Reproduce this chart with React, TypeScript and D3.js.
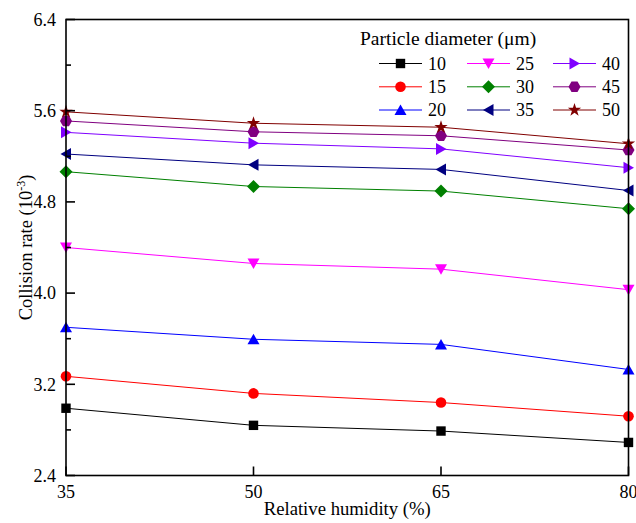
import React from "react";
import * as d3 from "d3";

const humidity = [35, 50, 65, 80];
const diameters = ["10", "15", "20", "25", "30", "35", "40", "45", "50"];
const d10 = [2.99, 2.84, 2.79, 2.69];
const d15 = [3.27, 3.12, 3.04, 2.92];
const d20 = [3.7, 3.595, 3.55, 3.33];
const d25 = [4.4, 4.26, 4.21, 4.03];
const d30 = [5.065, 4.935, 4.895, 4.74];
const d35 = [5.22, 5.125, 5.085, 4.9];
const d40 = [5.41, 5.315, 5.265, 5.1];
const d45 = [5.51, 5.415, 5.38, 5.255];
const d50 = [5.59, 5.49, 5.455, 5.31];
const seriesValues = [d10, d15, d20, d25, d30, d35, d40, d45, d50];
const colors = ["#000000", "#FF0000", "#0000FF", "#FF00FF", "#008000", "#000080", "#8000FF", "#800080", "#800000"];
const shapes = ["square", "circle", "triUp", "triDown", "diamond", "triLeft", "triRight", "hexagon", "star"];
const yTicks = [2.4, 3.2, 4.0, 4.8, 5.6, 6.4];
const yMinor = [2.8, 3.6, 4.4, 5.2, 6.0];
const xTicks = [35, 50, 65, 80];

const W = 636, H = 523;
const L = 66, R = 628.5, T = 19.5, B = 475.5;
const FONT = "'Liberation Serif', 'Times New Roman', serif";

function markerPath(shape: string): string {
  const p = d3.path();
  switch (shape) {
    case "square": {
      const s = 4.7;
      p.rect(-s, -s, 2 * s, 2 * s);
      break;
    }
    case "circle":
      p.arc(0, 0, 5.3, 0, Math.PI * 2);
      break;
    case "triUp":
      p.moveTo(0, -5.5); p.lineTo(6, 5); p.lineTo(-6, 5); p.closePath();
      break;
    case "triDown":
      p.moveTo(0, 5.5); p.lineTo(6, -5); p.lineTo(-6, -5); p.closePath();
      break;
    case "triLeft":
      p.moveTo(-5.5, 0); p.lineTo(5, -6); p.lineTo(5, 6); p.closePath();
      break;
    case "triRight":
      p.moveTo(5.5, 0); p.lineTo(-5, -6); p.lineTo(-5, 6); p.closePath();
      break;
    case "diamond":
      p.moveTo(0, -6.5); p.lineTo(6.5, 0); p.lineTo(0, 6.5); p.lineTo(-6.5, 0); p.closePath();
      break;
    case "hexagon": {
      const r = 6;
      for (let i = 0; i < 6; i++) {
        const a = (Math.PI / 3) * i + Math.PI / 6 + Math.PI / 2;
        const x = r * Math.cos(a), y = r * Math.sin(a);
        if (i === 0) p.moveTo(x, y); else p.lineTo(x, y);
      }
      p.closePath();
      break;
    }
    case "star":
      return d3.symbol(d3.symbolStar, 55)() as string;
  }
  return p.toString();
}

export default function App() {
  const x = d3.scaleLinear().domain([35, 80]).range([L, R]);
  const y = d3.scaleLinear().domain([2.4, 6.4]).range([B, T]);
  const line = d3.line<number>().x((_, i) => x(humidity[i])).y((v) => y(v));

  const legCols = [379, 467, 553];
  const legRows = [63.5, 86.8, 110];

  return (
    <svg width={W} height={H} style={{ position: "absolute", left: 0, top: 0, background: "#fff" }} fontFamily={FONT}>
      <rect x={0} y={0} width={W} height={H} fill="#fff" />
      {/* series */}
      {seriesValues.map((vals, si) => (
        <g key={si}>
          <path d={line(vals) as string} fill="none" stroke={colors[si]} strokeWidth={1} />
          {vals.map((v, i) => (
            <path key={i} d={markerPath(shapes[si])} transform={`translate(${x(humidity[i])},${y(v)})`} fill={colors[si]} />
          ))}
        </g>
      ))}
      {/* frame */}
      <rect x={L} y={T} width={R - L} height={B - T} fill="none" stroke="#000" strokeWidth={1.6} />
      {/* y ticks */}
      {yTicks.map((t) => (
        <g key={t}>
          <line x1={L} x2={L + 9} y1={y(t)} y2={y(t)} stroke="#000" strokeWidth={1.6} />
          <text x={L - 10} y={y(t)} dy="0.35em" textAnchor="end" fontSize={18}>{t.toFixed(1)}</text>
        </g>
      ))}
      {yMinor.map((t) => (
        <line key={t} x1={L} x2={L + 5} y1={y(t)} y2={y(t)} stroke="#000" strokeWidth={1.6} />
      ))}
      {/* x ticks */}
      {xTicks.map((t) => (
        <g key={t}>
          <line x1={x(t)} x2={x(t)} y1={B} y2={B - 9} stroke="#000" strokeWidth={1.6} />
          <text x={x(t)} y={498} textAnchor="middle" fontSize={18}>{t}</text>
        </g>
      ))}
      {/* axis titles */}
      <text x={(L + R) / 2} y={515} textAnchor="middle" fontSize={18.7}>Relative humidity (%)</text>
      <text transform={`translate(32,${(T + B) / 2}) rotate(-90)`} textAnchor="middle" fontSize={18.5}>
        Collision rate (10<tspan fontSize={12} dy={-7}>-3</tspan><tspan dy={7}>)</tspan>
      </text>
      {/* legend */}
      <text x={360} y={45} fontSize={19.5}>Particle diameter (μm)</text>
      {diameters.map((d, i) => {
        const col = Math.floor(i / 3);
        const row = i % 3;
        const lx = legCols[col];
        const ly = legRows[row];
        return (
          <g key={d}>
            <line x1={lx} x2={lx + 43} y1={ly} y2={ly} stroke={colors[i]} strokeWidth={1} />
            <path d={markerPath(shapes[i])} transform={`translate(${lx + 21.5},${ly})`} fill={colors[i]} />
            <text x={lx + 49} y={ly} dy="0.35em" fontSize={18}>{d}</text>
          </g>
        );
      })}
    </svg>
  );
}
